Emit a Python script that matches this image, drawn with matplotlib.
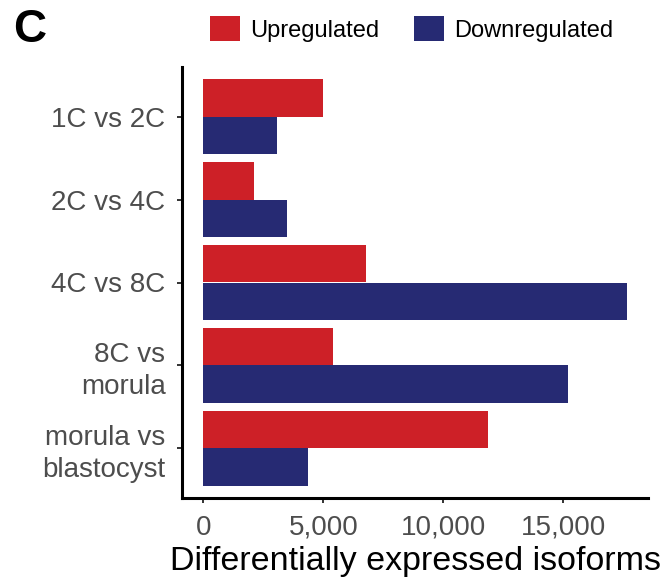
import numpy as np
import matplotlib
matplotlib.use("Agg")
import matplotlib.pyplot as plt
from matplotlib.patches import Patch
from matplotlib.ticker import FuncFormatter

plt.rcParams['font.family'] = ['Liberation Sans', 'DejaVu Sans']

# Comparison labels, top to bottom
comparisons = ['1C vs 2C', '2C vs 4C', '4C vs 8C', '8C vs\nmorula', 'morula vs\nblastocyst']
upregulated = [5000, 2090, 6770, 5380, 11840]
downregulated = [3070, 3490, 17660, 15190, 4350]

up_color = '#CD2027'
down_color = '#262A73'

fig = plt.figure(figsize=(6.66, 5.85), dpi=100)
ax = fig.add_axes([182.3 / 666, 1 - 498 / 585, 466 / 666, 431 / 585])

pos = np.arange(len(comparisons))
h = 0.45
ax.barh(pos - h / 2, upregulated, height=h, color=up_color)
ax.barh(pos + h / 2, downregulated, height=h, color=down_color)

ax.set_ylim(len(comparisons) - 0.4, -0.6)
top = max(max(upregulated), max(downregulated))
ax.set_xlim(-0.05 * top, 1.05 * top)

ax.set_yticks(pos)
ax.set_yticklabels(comparisons, linespacing=1.3)
ax.set_xticks([0, 5000, 10000, 15000])
ax.xaxis.set_major_formatter(FuncFormatter(lambda v, p: f'{int(v):,}'))

for s in ['top', 'right']:
    ax.spines[s].set_visible(False)
for s in ['left', 'bottom']:
    ax.spines[s].set_linewidth(2.2)
    ax.spines[s].set_color('black')

ax.tick_params(axis='both', labelsize=20, labelcolor='#4D4D4D', color='#333333',
               length=3.6, width=1.4)
ax.tick_params(axis='y', pad=8.5)
ax.tick_params(axis='x', pad=8.5)

ax.set_xlabel('Differentially expressed isoforms', fontsize=24.5, color='black', labelpad=4)

# panel letter
fig.text(13 / 666, 1 - 30 / 585, 'C', fontsize=33, fontweight='bold', va='center', ha='left')

handles = [Patch(facecolor=up_color, label='Upregulated'),
           Patch(facecolor=down_color, label='Downregulated')]
fig.legend(handles=handles, loc='center', bbox_to_anchor=(411.7 / 666, 1 - 29 / 585),
           ncol=2, frameon=False, fontsize=17, handlelength=1.25, handleheight=1.25,
           handletextpad=0.42, columnspacing=1.5, borderpad=0, borderaxespad=0)

fig.savefig('out.png', dpi=100)
